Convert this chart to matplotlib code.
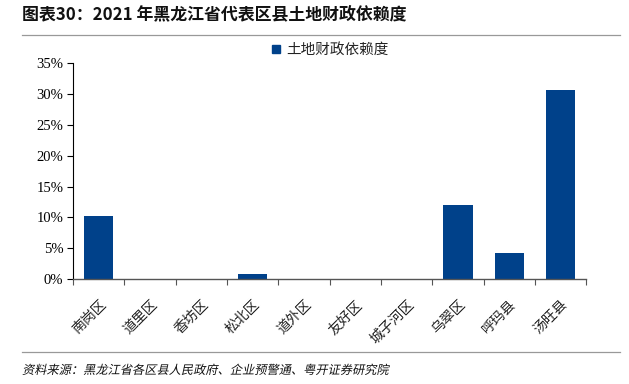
import numpy as np
from matplotlib import pyplot as plt
from matplotlib.lines import Line2D
from matplotlib.textpath import TextPath
from matplotlib.patches import PathPatch
from matplotlib.font_manager import FontProperties
from matplotlib.transforms import Affine2D

plt.rcParams['font.family'] = ['Noto Sans CJK SC', 'DejaVu Sans']

# 数据
regions = ['南岗区', '道里区', '香坊区', '松北区', '道外区',
           '友好区', '城子河区', '乌翠区', '呼玛县', '汤旺县']
dependence = [0.102, 0.0, 0.0, 0.009, 0.0, 0.0, 0.0, 0.120, 0.043, 0.307]
y_ticks = [0.0, 0.05, 0.10, 0.15, 0.20, 0.25, 0.30, 0.35]
y_tick_labels = ['0%', '5%', '10%', '15%', '20%', '25%', '30%', '35%']

title = '图表30：2021 年黑龙江省代表区县土地财政依赖度'
source = '资料来源：黑龙江省各区县人民政府、企业预警通、粤开证券研究院'
legend_label = '土地财政依赖度'
bar_color = '#00418A'

#==============================================================#
fig = plt.figure(figsize=(6.29, 3.84), dpi=100)
ax = fig.add_axes([0.116, 0.273, 0.816, 0.563])

x = np.arange(len(regions))
ax.bar(x, dependence, width=0.57, color=bar_color, zorder=2)

ax.set_xlim(-0.5, len(regions) - 0.5)
ax.set_ylim(0, 0.35)

# 軸
for s in ['top', 'right']:
    ax.spines[s].set_visible(False)
ax.spines['left'].set_color('black')
ax.spines['left'].set_linewidth(0.8)
ax.spines['bottom'].set_color('#555555')
ax.spines['bottom'].set_linewidth(1.0)

ax.set_yticks(y_ticks)
ax.set_yticklabels(y_tick_labels, fontfamily='Liberation Serif', fontsize=10.5)
ax.tick_params(axis='y', direction='out', length=4, width=0.8, pad=3)

ax.set_xticks(x)
ax.set_xticklabels(regions, rotation=45, ha='right', va='top',
                   rotation_mode='anchor', fontsize=10, color='#222222')
ax.tick_params(axis='x', which='major', length=0, pad=13)
ax.set_xticks(np.arange(-0.5, len(regions)), minor=True)
ax.tick_params(axis='x', which='minor', direction='out', length=4,
               width=0.8, color='#555555')

# 凡例
handle = Line2D([], [], marker='s', linestyle='none', markersize=6,
                color=bar_color)
fig.legend([handle], [legend_label], loc='center',
           bbox_to_anchor=(0.523, 0.87), frameon=False, fontsize=10.5,
           handlelength=0.8, handletextpad=0.3, borderaxespad=0,
           labelcolor='#222222')

# タイトルと区切り線
fig.text(0.035, 0.963, title, fontsize=12.2, fontweight='bold',
         ha='left', va='center', color='#111111')
fig.add_artist(Line2D([0.035, 0.985], [0.909, 0.909], color='#999999',
                      linewidth=0.9, transform=fig.transFigure))
fig.add_artist(Line2D([0.035, 0.985], [0.083, 0.083], color='#999999',
                      linewidth=0.9, transform=fig.transFigure))

# 出典（斜体風）
fp = FontProperties(family='Noto Sans CJK SC', size=8.8)
tp = TextPath((0, 0), source, prop=fp)
px_per_pt = fig.dpi / 72.0
tr = (Affine2D().skew_deg(12, 0).scale(px_per_pt)
      .translate(0.035 * 629, (1 - 370 / 384) * 384 - 4))
patch = PathPatch(tp, transform=tr, color='#111111', lw=0)
fig.add_artist(patch)

fig.savefig('out.png', dpi=100)
